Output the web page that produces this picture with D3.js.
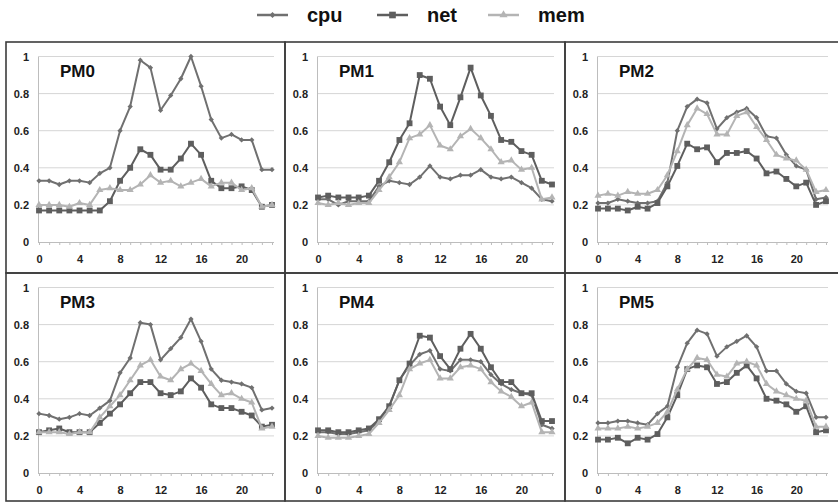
<!DOCTYPE html>
<html>
<head>
<meta charset="utf-8">
<script src="https://cdn.jsdelivr.net/npm/d3@7"></script>
<style>
  body { margin: 0; background: #fff; font-family: "Liberation Sans", Arial, sans-serif; }
</style>
</head>
<body>
<div id="chart"></div>
<script>
const panels = ["PM0", "PM1", "PM2", "PM3", "PM4", "PM5"];
const hours = [0,1,2,3,4,5,6,7,8,9,10,11,12,13,14,15,16,17,18,19,20,21,22,23];
const xTicks = [0, 4, 8, 12, 16, 20];
const yTicks = [0, 0.2, 0.4, 0.6, 0.8, 1];

// one row per PM
const cpu = [
  [0.33,0.33,0.31,0.33,0.33,0.32,0.37,0.40,0.60,0.73,0.98,0.94,0.71,0.79,0.88,1.00,0.84,0.66,0.56,0.58,0.55,0.55,0.39,0.39],
  [0.23,0.23,0.20,0.22,0.22,0.22,0.30,0.33,0.32,0.31,0.35,0.41,0.35,0.34,0.36,0.36,0.39,0.35,0.34,0.35,0.32,0.29,0.23,0.22],
  [0.21,0.21,0.23,0.22,0.21,0.21,0.22,0.32,0.60,0.73,0.77,0.75,0.61,0.67,0.70,0.72,0.67,0.57,0.56,0.47,0.41,0.39,0.23,0.24],
  [0.32,0.31,0.29,0.30,0.32,0.31,0.35,0.39,0.54,0.62,0.81,0.80,0.61,0.67,0.73,0.83,0.71,0.56,0.50,0.49,0.48,0.46,0.34,0.35],
  [0.22,0.22,0.21,0.21,0.22,0.23,0.28,0.36,0.50,0.58,0.64,0.66,0.56,0.55,0.61,0.61,0.60,0.53,0.48,0.45,0.43,0.42,0.26,0.24],
  [0.27,0.27,0.28,0.28,0.27,0.26,0.32,0.36,0.57,0.70,0.77,0.75,0.63,0.68,0.71,0.74,0.68,0.55,0.55,0.48,0.44,0.43,0.30,0.30]
];
const net = [
  [0.17,0.17,0.17,0.17,0.17,0.17,0.17,0.22,0.33,0.40,0.50,0.47,0.39,0.39,0.45,0.53,0.47,0.33,0.29,0.29,0.30,0.28,0.19,0.20],
  [0.24,0.25,0.24,0.24,0.24,0.25,0.33,0.43,0.55,0.64,0.90,0.88,0.73,0.63,0.78,0.94,0.79,0.68,0.55,0.54,0.49,0.47,0.33,0.31],
  [0.18,0.18,0.18,0.17,0.19,0.18,0.21,0.30,0.41,0.53,0.50,0.51,0.43,0.48,0.48,0.49,0.45,0.37,0.38,0.34,0.30,0.32,0.20,0.22],
  [0.22,0.23,0.24,0.22,0.22,0.22,0.27,0.32,0.37,0.43,0.49,0.49,0.43,0.42,0.44,0.51,0.46,0.37,0.35,0.35,0.33,0.31,0.25,0.26],
  [0.23,0.23,0.22,0.22,0.23,0.24,0.29,0.36,0.50,0.59,0.74,0.73,0.63,0.56,0.67,0.75,0.67,0.57,0.49,0.49,0.43,0.43,0.28,0.28],
  [0.18,0.18,0.19,0.16,0.19,0.18,0.21,0.30,0.42,0.56,0.58,0.57,0.48,0.49,0.54,0.58,0.51,0.40,0.39,0.37,0.33,0.36,0.22,0.23]
];
const mem = [
  [0.20,0.20,0.20,0.19,0.21,0.20,0.28,0.29,0.28,0.28,0.31,0.36,0.32,0.33,0.30,0.32,0.34,0.30,0.32,0.32,0.28,0.29,0.19,0.20],
  [0.21,0.20,0.21,0.20,0.21,0.21,0.28,0.35,0.43,0.56,0.58,0.63,0.52,0.50,0.57,0.61,0.56,0.50,0.43,0.44,0.39,0.40,0.23,0.24],
  [0.25,0.26,0.25,0.27,0.26,0.26,0.28,0.36,0.49,0.63,0.72,0.69,0.58,0.58,0.68,0.70,0.62,0.55,0.47,0.45,0.44,0.39,0.27,0.28],
  [0.22,0.22,0.22,0.21,0.22,0.22,0.30,0.36,0.42,0.50,0.58,0.61,0.52,0.50,0.56,0.59,0.55,0.48,0.42,0.43,0.40,0.38,0.24,0.25],
  [0.20,0.19,0.19,0.19,0.20,0.21,0.27,0.34,0.42,0.56,0.59,0.61,0.51,0.51,0.57,0.58,0.56,0.49,0.44,0.41,0.36,0.38,0.22,0.22],
  [0.24,0.24,0.24,0.25,0.24,0.25,0.27,0.33,0.45,0.56,0.62,0.61,0.53,0.52,0.59,0.60,0.58,0.48,0.44,0.42,0.40,0.39,0.25,0.25]
];

const series = [
  {name: "cpu", data: cpu, color: "#707070", shape: d3.symbolSquare, size: 14, rotate: 45},
  {name: "net", data: net, color: "#5e5e5e", shape: d3.symbolSquare, size: 34, rotate: 0},
  {name: "mem", data: mem, color: "#b4b4b4", shape: d3.symbolTriangle, size: 22, rotate: 0}
];

const width = 838, height = 503;
const colX = [6, 285, 565], colW = [279, 280, 274];
const rowY = [42, 273], rowH = [231, 228];

const svg = d3.select("#chart").append("svg")
    .attr("width", width)
    .attr("height", height)
    .style("font-family", "'Liberation Sans', Arial, sans-serif");

// legend
const legend = svg.append("g");
const legendX = [257, 377, 488];
series.forEach((s, i) => {
  const g = legend.append("g").attr("transform", `translate(${legendX[i]},15)`);
  g.append("line").attr("x1", 0).attr("x2", 31).attr("y1", 0).attr("y2", 0)
    .attr("stroke", s.color).attr("stroke-width", 2.5);
  g.append("path").attr("d", d3.symbol(s.shape, s.size * 1.3)())
    .attr("transform", `translate(15.5,0) rotate(${s.rotate})`)
    .attr("fill", s.color);
  g.append("text").attr("x", 50).attr("y", 7)
    .style("font-size", "20px").style("font-weight", "bold")
    .attr("fill", "#111").text(s.name);
});

panels.forEach((name, p) => {
  const col = p % 3, row = Math.floor(p / 3);
  const px = colX[col], py = rowY[row], pw = colW[col], ph = rowH[row];
  const left = px + 32, right = px + pw - 11;
  const top = py + 14.5, bottom = py + 200;

  const x = d3.scalePoint().domain(hours).range([left + 1, right - 2]);
  const y = d3.scaleLinear().domain([0, 1]).range([bottom, top]);

  const g = svg.append("g");

  // panel frame
  g.append("rect").attr("x", px).attr("y", py).attr("width", pw).attr("height", ph)
    .attr("fill", "none").attr("stroke", "#3c3c3c").attr("stroke-width", 1.6);

  // gridlines
  g.append("g").selectAll("line").data(yTicks.filter(t => t > 0)).join("line")
    .attr("x1", left).attr("x2", right)
    .attr("y1", d => y(d)).attr("y2", d => y(d))
    .attr("stroke", "#d6d6d6").attr("stroke-width", 1);

  // y axis
  const yAxis = g.append("g").attr("transform", `translate(${left},0)`)
    .call(d3.axisLeft(y).tickValues(yTicks).tickSize(0).tickPadding(9).tickFormat(d3.format("")));
  yAxis.select(".domain").attr("stroke", "#bdbdbd");
  yAxis.selectAll("text").style("font-size", "11px").style("font-weight", "bold").attr("fill", "#222");

  // x axis: minor ticks at every hour, labels every 4
  const xAxis = g.append("g").attr("transform", `translate(0,${bottom})`)
    .call(d3.axisBottom(x).tickSize(3).tickSizeOuter(0).tickPadding(10)
      .tickFormat(d => xTicks.includes(d) ? d : ""));
  xAxis.select(".domain").attr("stroke", "#bdbdbd").attr("d", `M${left},0.5H${right}`);
  xAxis.selectAll(".tick line").attr("stroke", "#bdbdbd");
  xAxis.selectAll("text").style("font-size", "11px").style("font-weight", "bold").attr("fill", "#222");

  // series
  series.forEach(s => {
    const vals = s.data[p];
    const line = d3.line().x((d, i) => x(hours[i])).y(d => y(d));
    g.append("path").datum(vals)
      .attr("d", line)
      .attr("fill", "none")
      .attr("stroke", s.color)
      .attr("stroke-width", 2)
      .attr("stroke-linejoin", "round");
    g.append("g").selectAll("path").data(vals).join("path")
      .attr("d", d3.symbol(s.shape, s.size)())
      .attr("transform", (d, i) => `translate(${x(hours[i])},${y(d)}) rotate(${s.rotate})`)
      .attr("fill", s.color);
  });

  // panel name
  g.append("text").attr("x", left + 22).attr("y", py + 35)
    .style("font-size", "17px").style("font-weight", "bold")
    .attr("fill", "#111").text(name);
});
</script>
</body>
</html>
